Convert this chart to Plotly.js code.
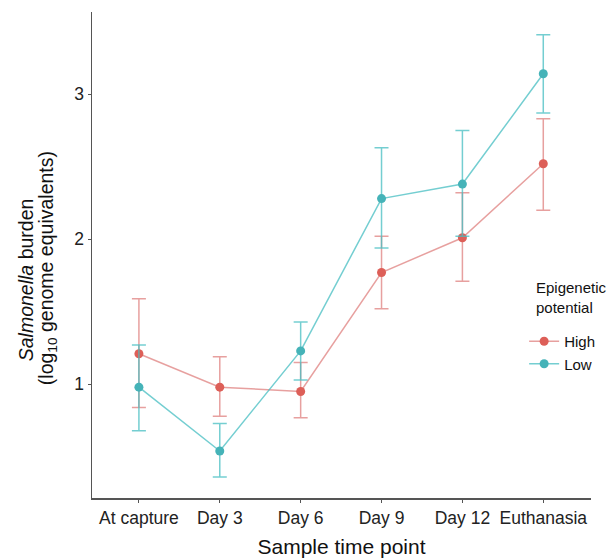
<!DOCTYPE html>
<html>
<head>
<meta charset="utf-8">
<script src="https://cdn.plot.ly/plotly-3.0.1.min.js"></script>
<style>html,body{margin:0;padding:0;background:#fff;}#chart{width:612px;height:559px;}</style>
</head>
<body>
<div id="chart"></div>
<script>
const categories = ["At capture", "Day 3", "Day 6", "Day 9", "Day 12", "Euthanasia"];
const highMean  = [1.21, 0.98, 0.95, 1.77, 2.01, 2.52];
const highUpper = [1.59, 1.19, 1.15, 2.02, 2.32, 2.83];
const highLower = [0.84, 0.78, 0.77, 1.52, 1.71, 2.20];
const lowMean   = [0.98, 0.54, 1.23, 2.28, 2.38, 3.14];
const lowUpper  = [1.27, 0.73, 1.43, 2.63, 2.75, 3.41];
const lowLower  = [0.68, 0.36, 1.03, 1.94, 2.02, 2.87];
const yTicks = [1, 2, 3];
const yTitleLines = ["<i>Salmonella</i> burden", "(log<sub>10</sub> genome equivalents)"];
const legendTitle = "Epigenetic<br>potential";

function plus(m, u) { return m.map((v, i) => u[i] - v); }
function minus(m, l) { return m.map((v, i) => v - l[i]); }

function series(name, mean, up, lo, col, lineCol) {
  return {
    type: "scatter", mode: "lines+markers", name: name,
    x: categories, y: mean,
    line: {color: lineCol, width: 1.5},
    marker: {color: col, size: 9},
    error_y: {type: "data", symmetric: false, array: plus(mean, up), arrayminus: minus(mean, lo),
              color: lineCol, thickness: 1.5, width: 7}
  };
}

const data = [
  series("High", highMean, highUpper, highLower, "#DD5F58", "rgba(221,120,118,0.7)"),
  series("Low", lowMean, lowUpper, lowLower, "#45B3B8", "rgba(70,190,194,0.75)")
];

const layout = {
  width: 612, height: 559,
  margin: {l: 92, r: 19, t: 12, b: 61},
  paper_bgcolor: "#fff", plot_bgcolor: "#fff",
  font: {family: "Liberation Sans, Arial, sans-serif", color: "#222", size: 16},
  showlegend: true,
  legend: {
    x: 0.866, y: 0.356, xanchor: "left", yanchor: "top",
    font: {size: 15, color: "#111"},
    bgcolor: "rgba(0,0,0,0)", tracegroupgap: 0, itemwidth: 30
  },
  annotations: [
    {xref: "paper", yref: "paper", x: 0.886, y: 0.455, xanchor: "left", yanchor: "top", align: "left",
     text: legendTitle, showarrow: false, font: {size: 15, color: "#111"}},
    {xref: "paper", yref: "paper", x: (26 - 92) / 501, y: (498 - 280) / 486, xanchor: "center", yanchor: "middle",
     textangle: -90, text: yTitleLines[0], showarrow: false, font: {size: 19.5, color: "#111"}},
    {xref: "paper", yref: "paper", x: (47 - 92) / 501, y: (498 - 268) / 486, xanchor: "center", yanchor: "middle",
     textangle: -90, text: yTitleLines[1], showarrow: false, font: {size: 19.5, color: "#111"}}
  ],
  xaxis: {
    type: "category", range: [-0.58, 5.59],
    showline: true, linecolor: "#555", linewidth: 1.5,
    ticks: "outside", ticklen: 3, tickcolor: "#555", tickwidth: 1,
    showgrid: false, zeroline: false,
    tickfont: {size: 17.5, color: "#222"},
    title: {text: "Sample time point", font: {size: 21, color: "#111"}, standoff: 13}
  },
  yaxis: {
    range: [0.216, 3.566],
    tickvals: yTicks, ticktext: yTicks.map(String),
    showline: true, linecolor: "#555", linewidth: 1.5,
    ticks: "outside", ticklen: 3, tickcolor: "#555", tickwidth: 1,
    showgrid: false, zeroline: false,
    tickfont: {size: 17.5, color: "#222"}
  }
};

Plotly.newPlot("chart", data, layout, {displayModeBar: false, staticPlot: true});
</script>
</body>
</html>
